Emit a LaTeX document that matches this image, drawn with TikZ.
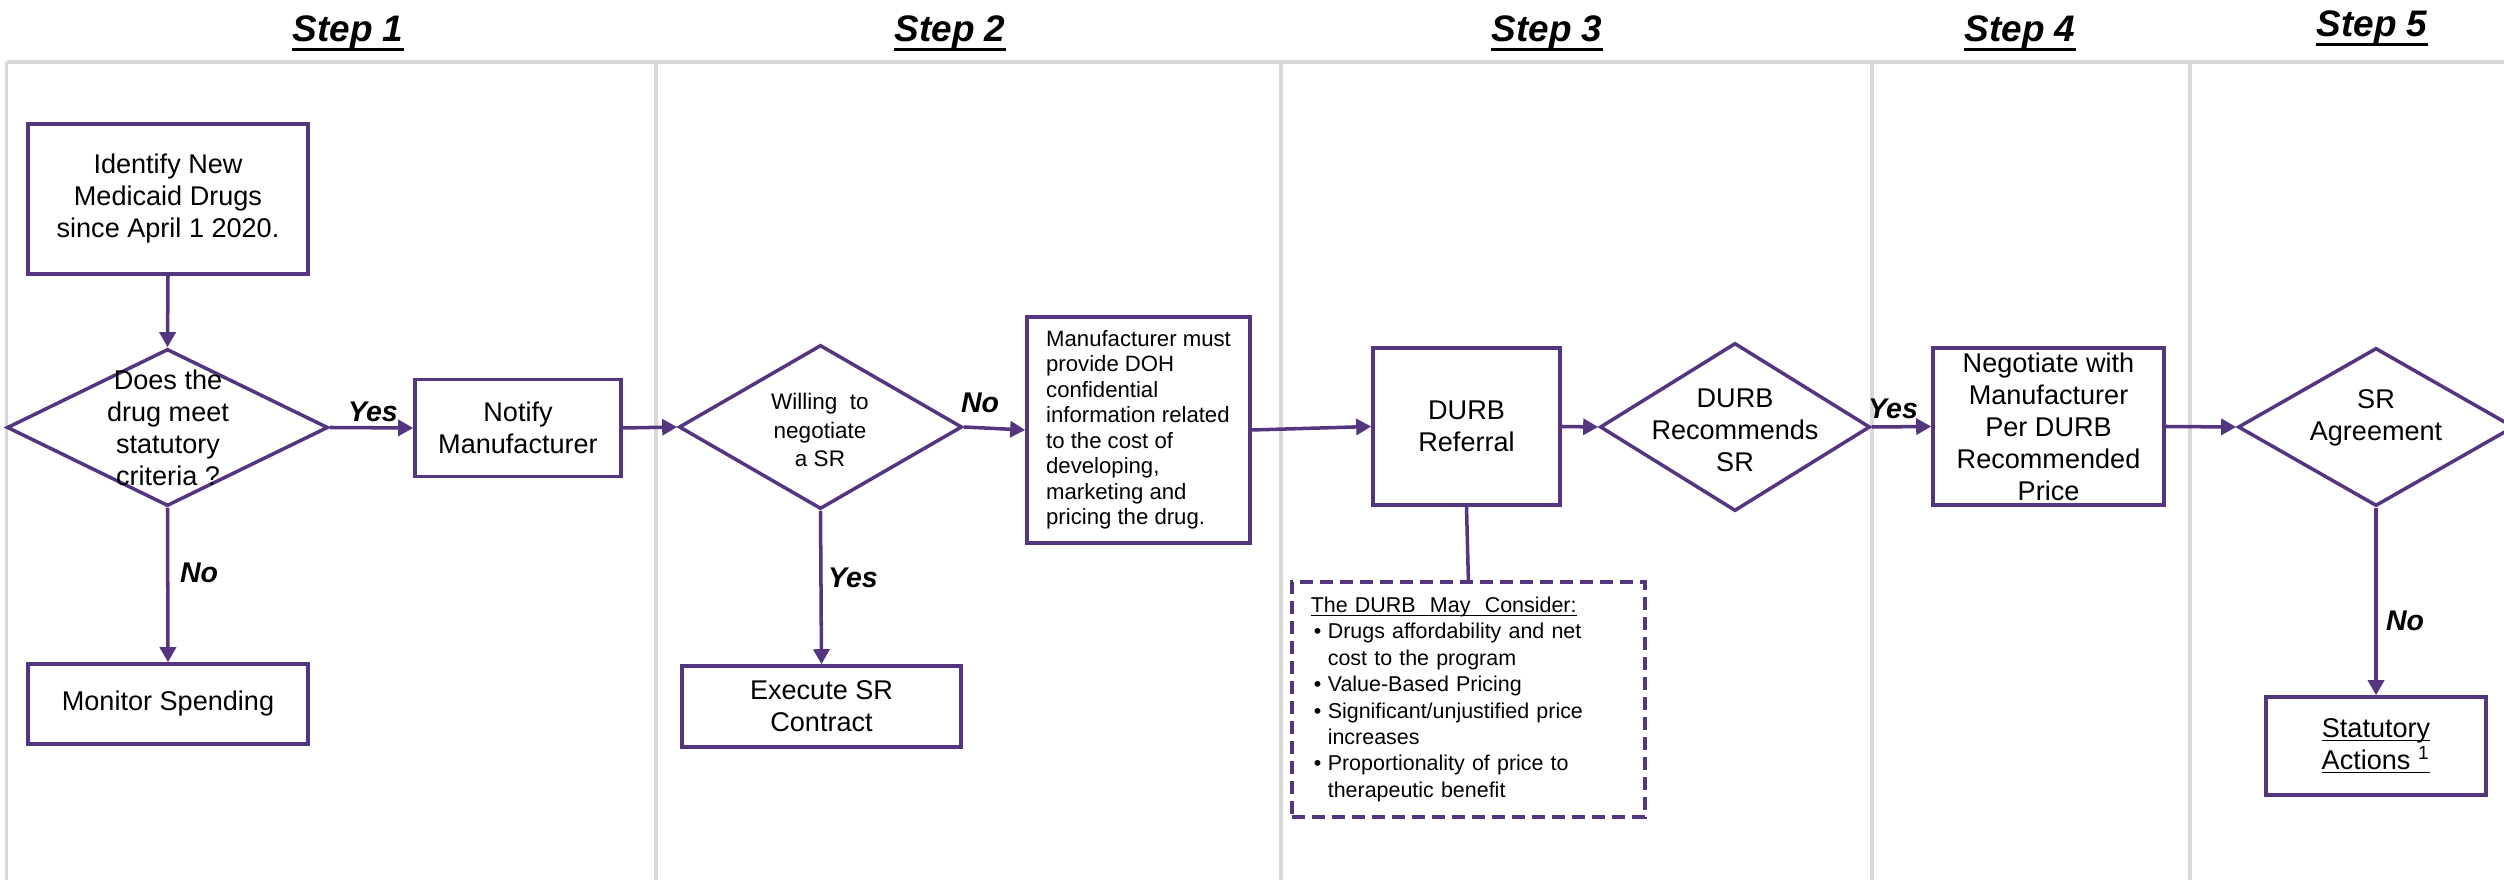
\documentclass[tikz,border=0pt]{standalone}
\usepackage{fontspec}
\setmainfont{Liberation Sans}
\usetikzlibrary{shapes.geometric,arrows.meta}
\definecolor{pur}{RGB}{84,54,128}
\definecolor{divg}{RGB}{217,217,217}
\newcommand\fsz[2]{\fontsize{#1}{#2}\selectfont}
\newcommand\bulitem{\hspace*{0.03cm}\makebox[0.14cm][l]{\textbullet}}
\newcommand\bulind{\hspace*{0.17cm}}
\newcommand\ulx[1]{\setbox0\hbox{#1}\rlap{\rule[-1.1pt]{\wd0}{0.45pt}}\box0}
\begin{document}
\begin{tikzpicture}[x=0.01cm,y=-0.01cm,
  box/.style={draw=pur,fill=white,line width=1pt,rectangle,inner sep=0pt,align=center,font=\fsz{7.7}{9.1}},
  dia/.style={draw=pur,fill=white,line width=1pt,diamond,inner sep=0pt},
  txt/.style={inner sep=0pt,align=center,font=\fsz{7.7}{9.1}},
  arr/.style={draw=pur,line width=1pt,-{Triangle[length=0.15cm,width=0.16cm]}},
  lnk/.style={draw=pur,line width=1pt},
  lbl/.style={inner sep=0pt,font=\fsz{8.1}{9}\bfseries\itshape},
  ttl/.style={inner sep=0pt,font=\fsz{10.5}{12}\bfseries\itshape},
  grid/.style={draw=divg,line width=0.9pt},
  ulin/.style={draw=black,line width=0.85pt},
]
\useasboundingbox (0,0) rectangle (2504,880);
\clip (0,0) rectangle (2504,880);

% column grid
\draw[grid] (6.7,62) -- (2504,62);
\foreach \x in {6.7,656,1281,1872,2190} \draw[grid] (\x,62) -- (\x,880);

% step titles
\node[ttl,anchor=base] (t1) at (348,42) {Step 1};
\node[ttl,anchor=base] (t2) at (950,42) {Step 2};
\node[ttl,anchor=base] (t3) at (1547,42) {Step 3};
\node[ttl,anchor=base] (t4) at (2020,42) {Step 4};
\node[ttl,anchor=base] (t5) at (2372,37) {Step 5};
\foreach \t in {t1,t2,t3,t4,t5}
  \draw[ulin] ([yshift=-0.08cm]\t.base west) -- ([yshift=-0.08cm]\t.base east);

% step 1
\node[box,minimum width=2.8cm,minimum height=1.5cm] (ident) at (168,199) {Identify New\\Medicaid Drugs\\since April 1 2020.};
\node[dia,minimum width=3.21cm,minimum height=1.57cm] (d1) at (167.5,427.5) {};
\node[txt] (d1t) at (168,428) {Does the\\drug meet\\statutory\\criteria ?};
\node[box,minimum width=2.06cm,minimum height=0.97cm] (notify) at (518,428) {Notify\\Manufacturer};
\node[box,minimum width=2.8cm,minimum height=0.8cm] (monitor) at (168,704) {Monitor Spending};

% step 2
\node[dia,minimum width=2.83cm,minimum height=1.64cm] (d2) at (820.5,427) {};
\node[txt,font=\fsz{6.4}{8}] (d2t) at (820,430) {Willing\ \ to\\negotiate\\a SR};
\node[box,align=left,font=\fsz{6.3}{7.25},minimum width=2.23cm,minimum height=2.26cm] (manuf) at (1138.5,430) {Manufacturer must\\provide DOH\\confidential\\information related\\to the cost of\\developing,\\marketing and\\pricing the drug.};
\node[box,minimum width=2.79cm,minimum height=0.81cm] (exec) at (821.5,706.5) {Execute SR\\Contract};

% step 3
\node[box,minimum width=1.87cm,minimum height=1.57cm] (durb) at (1466.5,426.5) {DURB\\Referral};
\node[dia,minimum width=2.7cm,minimum height=1.68cm] (d3) at (1735,427) {};
\node[txt] (d3t) at (1735,430) {DURB\\Recommends\\SR};
\node[draw=pur,fill=white,line width=1pt,dash pattern=on 0.13cm off 0.07cm,anchor=north west,text width=3.15cm,inner xsep=0.19cm,inner ysep=0pt,minimum height=2.35cm,align=left,font=\fsz{6.1}{7.5}] (cons) at (1290,580)
 {\ulx{The DURB\ \ May\ \ Consider:}\\
  \bulitem Drugs affordability and net\\
  \bulind cost to the program\\
  \bulitem Value-Based Pricing\\
  \bulitem Significant/unjustified price\\
  \bulind increases\\
  \bulitem Proportionality of price to\\
  \bulind therapeutic benefit};

% step 4
\node[box,minimum width=2.31cm,minimum height=1.57cm] (neg) at (2048.5,426.5) {Negotiate with\\Manufacturer\\Per DURB\\Recommended\\Price};

% step 5
\node[dia,minimum width=2.76cm,minimum height=1.58cm] (d4) at (2376,427) {};
\node[txt] (d4t) at (2376,418) {SR\\Agreement};
\node[box,minimum width=2.2cm,minimum height=0.98cm] (stat) at (2376,746) {\ulx{Statutory}\\\ulx{Actions~\textsuperscript{1}}};

% connectors
\draw[arr] (ident.south) -- (d1.north);
\draw[arr] (d1.east) -- (notify.west);
\draw[arr] (d1.south) -- (monitor.north);
\draw[arr] (notify.east) -- (d2.west);
\draw[arr] (d2.east) -- (manuf.west);
\draw[arr] (d2.south) -- (exec.north);
\draw[arr] (manuf.east) -- (durb.west);
\draw[arr] (durb.east) -- (d3.west);
\draw[lnk] (durb.south) -- (cons.north);
\draw[arr] (d3.east) -- (neg.west);
\draw[arr] (neg.east) -- (d4.west);
\draw[arr] (d4.south) -- (stat.north);

% labels
\node[lbl] (yes1) at (373,412) {Yes};
\node[lbl] (no1) at (199,573) {No};
\node[lbl] (no2) at (980,403) {No};
\node[lbl] (yes2) at (853,578) {Yes};
\node[lbl] (yes3) at (1893,409) {Yes};
\node[lbl] (no5) at (2405,621) {No};
\end{tikzpicture}
\end{document}
